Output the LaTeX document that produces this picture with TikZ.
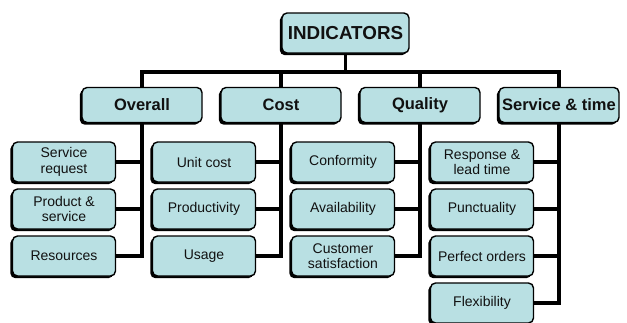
\documentclass[tikz,border=0pt]{standalone}
\usepackage{fontspec}
\setmainfont{Liberation Sans}
\usetikzlibrary{shadows}
\definecolor{boxfill}{HTML}{B9E0E3}
\definecolor{boxtext}{HTML}{111111}
\tikzset{
	box/.style={draw=black, line width=1.4pt, fill=boxfill, rounded corners=5pt,
		text=boxtext, align=center, inner sep=0pt,
		general shadow={fill=black, shadow xshift=-2.2pt, shadow yshift=-2.2pt}},
	top/.style={box, minimum width=127pt, minimum height=40pt,
		font=\bfseries\fontsize{18.8}{20}\selectfont},
	head/.style={box, minimum width=120pt, minimum height=35pt,
		font=\bfseries\fontsize{16.5}{18}\selectfont},
	leaf/.style={box, minimum width=103pt, minimum height=40pt,
		font=\fontsize{14}{15.5}\selectfont},
	link/.style={line width=3.5pt, line join=miter},
}

\begin{document}
\begin{tikzpicture}[x=1pt, y=-1pt]
	\useasboundingbox (0,0) rectangle (627,322);

	% root and the four groups
	\node[top] (ind) at (345.5,33) {INDICATORS};
	\node[head] (ov) at (142,105) {Overall};
	\node[head] (co) at (281,105) {Cost};
	\node[head] (qu) at (420,105) {Quality};
	\node[head] (st) at (559,105) {Service \& time};
	\coordinate (bar) at (345.5,72);

	% indicators of each group
	\node[leaf] (ov1) at (64,162) {Service\\request};
	\node[leaf] (ov2) at (64,209) {Product \&\\service};
	\node[leaf] (ov3) at (64,256) {Resources};
	\node[leaf] (co1) at (204,162) {Unit cost};
	\node[leaf] (co2) at (204,209) {Productivity};
	\node[leaf] (co3) at (204,256) {Usage};
	\node[leaf] (qu1) at (343,162) {Conformity};
	\node[leaf] (qu2) at (343,209) {Availability};
	\node[leaf] (qu3) at (343,256) {Customer\\satisfaction};
	\node[leaf] (st1) at (482,162) {Response \&\\lead time};
	\node[leaf] (st2) at (482,209) {Punctuality};
	\node[leaf] (st3) at (482,256) {Perfect orders};
	\node[leaf] (st4) at (482,303) {Flexibility};

	% tree lines
	\draw[link] (ind.south) -- (bar);
	\draw[link] (ov.north) |- (bar);
	\draw[link] (st.north) |- (bar);
	\draw[link] (co.north) -- (co.north |- bar);
	\draw[link] (qu.north) -- (qu.north |- bar);
	\foreach \g/\n in {ov/3, co/3, qu/3, st/4} {
		\draw[link] (\g.south) |- (\g\n.east);
		\foreach \i in {1,...,\n}
			\draw[link] (\g\i.east) -- (\g\i.east -| \g.south);
	}
\end{tikzpicture}
\end{document}
